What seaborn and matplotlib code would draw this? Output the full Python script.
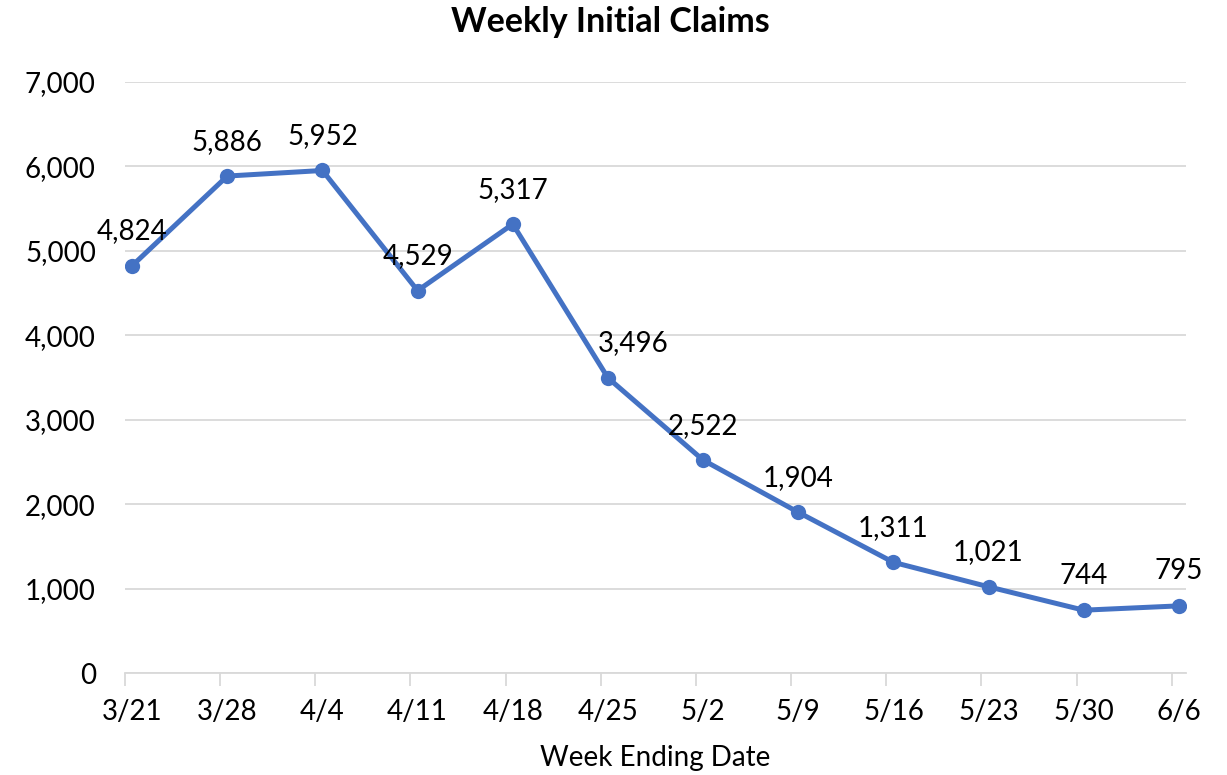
import pandas as pd
import numpy as np
import matplotlib
matplotlib.use("Agg")
import matplotlib.pyplot as plt
import seaborn as sns

# Chart data
weeks = ["3/21", "3/28", "4/4", "4/11", "4/18", "4/25", "5/2", "5/9", "5/16", "5/23", "5/30", "6/6"]
claims = [4824, 5886, 5952, 4529, 5317, 3496, 2522, 1904, 1311, 1021, 744, 795]

df = pd.DataFrame({"Week": weeks, "Claims": claims})
df["pos"] = range(len(df))

sns.set_style("white")
plt.rcParams["font.family"] = ["Lato", "DejaVu Sans"]

blue = "#4472C4"
grid_col = "#D9D9D9"
fs = 20

fig = plt.figure(figsize=(12.27, 7.75), dpi=100)
ax = fig.add_axes([125 / 1227, 1 - 673 / 775, (1186 - 125) / 1227, (673 - 82) / 775])

sns.lineplot(data=df, x="pos", y="Claims", ax=ax, color=blue, linewidth=3.6,
             marker="o", markersize=11, markeredgewidth=0, zorder=3)

# data labels above every point (the 4/25 one sits a bit to the right, like the original)
nudge = {"4/25": 18}
for wk, x, y in zip(df["Week"], df["pos"], df["Claims"]):
    ax.annotate(f"{y:,}", (x, y), xytext=(nudge.get(wk, 0), 19), textcoords="offset points",
                ha="center", va="baseline", fontsize=fs, color="black")

ax.set_ylim(0, 7000)
ax.set_yticks(range(0, 7001, 1000))
ax.yaxis.set_major_formatter(matplotlib.ticker.FuncFormatter(lambda v, p: f"{int(v):,}"))
ax.grid(axis="y", color=grid_col, linewidth=1.3)
ax.set_axisbelow(True)

ax.set_xlim(-0.075, len(weeks) - 1 + 0.075)
ax.set_xticks(df["pos"])
ax.set_xticklabels(weeks)
ax.set_xticks(np.arange(len(weeks)) - 0.075, minor=True)
ax.tick_params(axis="x", which="major", length=0, pad=19, labelsize=fs, colors="black")
ax.tick_params(axis="x", which="minor", length=9, width=1.3, color=grid_col, direction="out")
ax.tick_params(axis="y", length=0, pad=21, labelsize=fs, colors="black")
ax.xaxis.set_ticks_position("bottom")

for s in ["top", "right", "left"]:
    ax.spines[s].set_visible(False)
ax.spines["bottom"].set_color(grid_col)
ax.spines["bottom"].set_linewidth(1.3)

ax.set_xlabel("Week Ending Date", fontsize=fs, labelpad=14, color="black")
ax.set_ylabel("")
fig.text(0.4976, 0.971, "Weekly Initial Claims", ha="center", va="center",
         fontsize=24.5, fontweight="bold", color="black")

fig.savefig("out.png", dpi=100)
